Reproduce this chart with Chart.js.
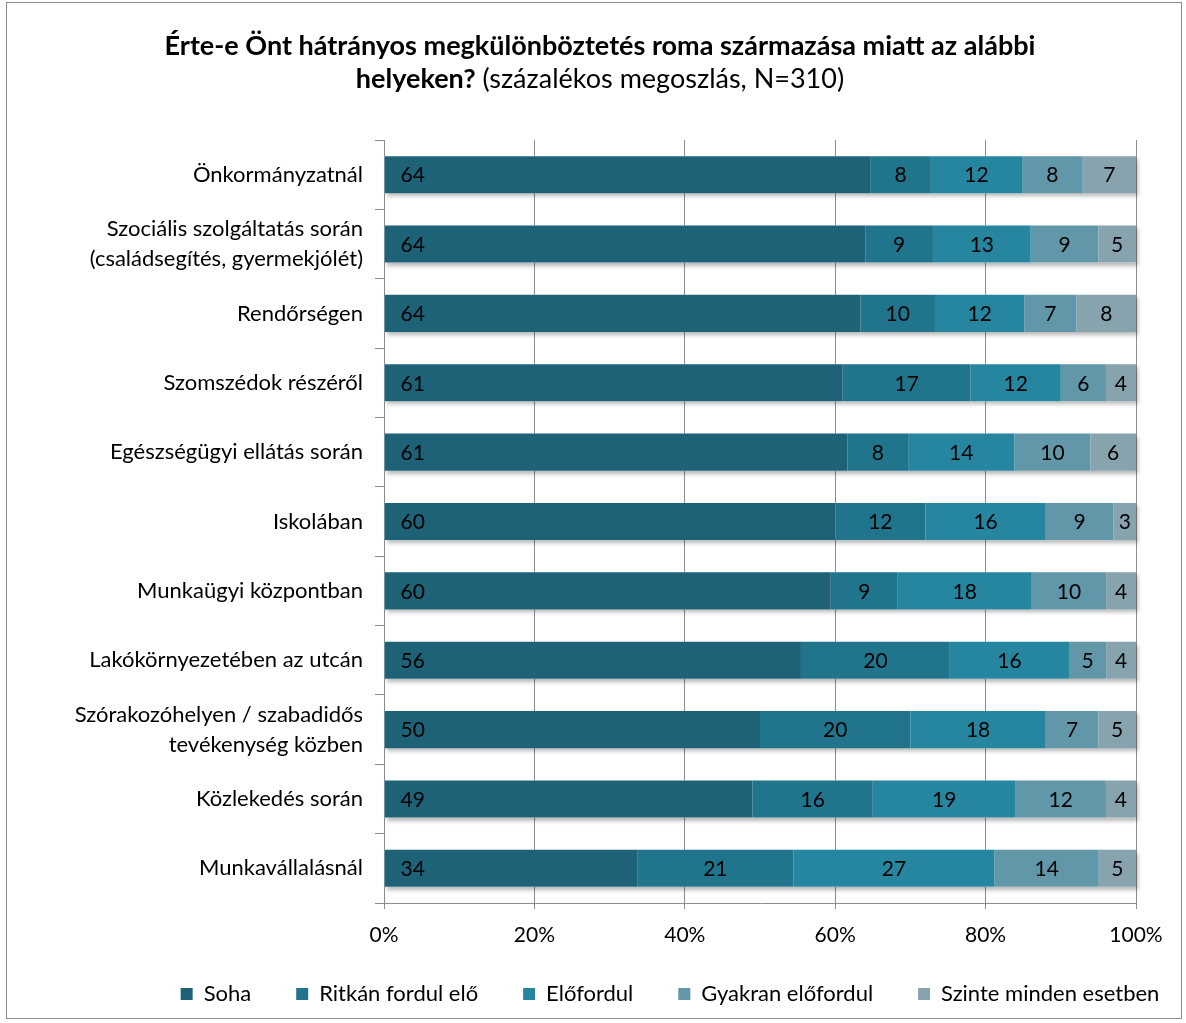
<!DOCTYPE html>
<html>
<head>
<meta charset="utf-8">
<script src="https://cdn.jsdelivr.net/npm/chart.js@4.4.1/dist/chart.umd.min.js"></script>
<style>
  html, body { margin: 0; padding: 0; background: #fff; }
  #keret { position: absolute; left: 6px; top: 2px; width: 1176px; height: 1017px; border: 1px solid #8c8c8c; box-sizing: border-box; }
  #doboz { position: absolute; left: 0; top: 0; width: 1186px; height: 1023px; }
</style>
</head>
<body>
<div id="keret"></div>
<div id="doboz"><canvas id="grafikon" width="1186" height="1023"></canvas></div>
<script>
const betu = "Lato, 'Open Sans', sans-serif";

const helyek = [
    "Önkormányzatnál",
    ["Szociális szolgáltatás során", "(családsegítés, gyermekjólét)"],
    "Rendőrségen",
    "Szomszédok részéről",
    "Egészségügyi ellátás során",
    "Iskolában",
    "Munkaügyi központban",
    "Lakókörnyezetében az utcán",
    ["Szórakozóhelyen / szabadidős", "tevékenység közben"],
    "Közlekedés során",
    "Munkavállalásnál"
];

const soha =      [64, 64, 64, 61, 61, 60, 60, 56, 50, 49, 34];
const ritkan =    [ 8,  9, 10, 17,  8, 12,  9, 20, 20, 16, 21];
const elofordul = [12, 13, 12, 12, 14, 16, 18, 16, 18, 19, 27];
const gyakran =   [ 8,  9,  7,  6, 10,  9, 10,  5,  7, 12, 14];
const szinte =    [ 7,  5,  8,  4,  6,  3,  4,  4,  5,  4,  5];

const sorozatNevek = ["Soha", "Ritkán fordul elő", "Előfordul", "Gyakran előfordul", "Szinte minden esetben"];
const szinek = ["#1d6277", "#20758c", "#26869f", "#6197a8", "#86a3ae"];
const osszes = [soha, ritkan, elofordul, gyakran, szinte];

// sorok összege -> 100%-os halmozás
const sorOsszeg = helyek.map((_, i) => osszes.reduce((s, sor) => s + sor[i], 0));

const adatsorok = osszes.map((sor, k) => ({
    label: sorozatNevek[k],
    data: sor.map((v, i) => v / sorOsszeg[i] * 100),
    nyers: sor,
    backgroundColor: szinek[k],
    borderWidth: 0,
    barPercentage: 0.535,
    categoryPercentage: 1
}));

// cím két betűtípussal
const cimRajz = {
    id: 'cimRajz',
    afterLayout(chart) {
        // a jelmagyarázat jobbra tolva, mint az eredetin
        chart.legend.left += 102;
        chart.legend.right += 102;
        chart.legend.top -= 20;
        chart.legend.bottom -= 20;
    },
    afterDraw(chart) {
        const ctx = chart.ctx;
        ctx.save();
        ctx.fillStyle = '#000';
        ctx.textBaseline = 'middle';
        ctx.textAlign = 'left';
        ctx.font = `bold 27px ${betu}`;
        const sor1 = "Érte-e Önt hátrányos megkülönböztetés roma származása miatt az alábbi";
        let w = ctx.measureText(sor1).width;
        ctx.fillText(sor1, 600 - w / 2, 46);
        const vastag = "helyeken?";
        const vekony = " (százalékos megoszlás, N=310)";
        const w1 = ctx.measureText(vastag).width;
        ctx.font = `27px ${betu}`;
        const w2 = ctx.measureText(vekony).width;
        const x0 = 600 - (w1 + w2) / 2;
        ctx.font = `bold 27px ${betu}`;
        ctx.fillText(vastag, x0, 79);
        ctx.font = `27px ${betu}`;
        ctx.fillText(vekony, x0 + w1, 79);
        ctx.restore();
    }
};

// értékcímkék
const cimkek = {
    id: 'cimkek',
    beforeDatasetsDraw(chart) {
        const ctx = chart.ctx;
        ctx.save();
        ctx.shadowColor = 'rgba(0,0,0,0.28)';
        ctx.shadowBlur = 4;
        ctx.shadowOffsetX = 2;
        ctx.shadowOffsetY = 3;
        const meta = chart.getDatasetMeta(0);
        meta.data.forEach((bar, i) => {
            const last = chart.getDatasetMeta(4).data[i];
            ctx.fillStyle = '#ffffff';
            ctx.fillRect(bar.base, bar.y - bar.height / 2, last.x - bar.base, bar.height);
        });
        ctx.restore();
    },
    afterDatasetsDraw(chart) {
        const ctx = chart.ctx;
        ctx.save();
        ctx.font = `21px ${betu}`;
        ctx.fillStyle = '#000';
        ctx.textBaseline = 'middle';
        chart.data.datasets.forEach((ds, k) => {
            chart.getDatasetMeta(k).data.forEach((bar, i) => {
                const szoveg = String(ds.nyers[i]);
                if (k === 0) {
                    ctx.textAlign = 'left';
                    ctx.fillText(szoveg, bar.base + 16, bar.y + 1);
                } else {
                    ctx.textAlign = 'center';
                    ctx.fillText(szoveg, (bar.base + bar.x) / 2, bar.y + 1);
                }
            });
        });
        ctx.restore();
    }
};

new Chart(document.querySelector("#grafikon"), {
    type: 'bar',
    data: { labels: helyek, datasets: adatsorok },
    options: {
        indexAxis: 'y',
        responsive: false,
        animation: false,
        layout: { padding: { top: 140, right: 50, bottom: -12, left: 0 } },
        scales: {
            x: {
                stacked: true,
                min: 0, max: 100,
                ticks: { stepSize: 20, callback: v => v + '%', color: '#000', font: { family: betu, size: 21 }, padding: 14 },
                grid: { color: '#8c8c8c', tickLength: 6, lineWidth: 1 },
                border: { color: '#8c8c8c' },
                afterFit(scale) { scale.height = 55; }
            },
            y: {
                stacked: true,
                ticks: { color: '#000', font: { family: betu, size: 22, lineHeight: 1.36 }, padding: 12 },
                grid: { drawOnChartArea: false, tickLength: 9, color: '#8c8c8c', offset: true },
                border: { color: '#8c8c8c' },
                afterFit(scale) { scale.width = 384; }
            }
        },
        plugins: {
            legend: {
                position: 'bottom',
                labels: { color: '#000', font: { family: betu, size: 22 }, boxWidth: 12, boxHeight: 12, padding: 45 }
            },
            tooltip: { enabled: false }
        }
    },
    plugins: [cimRajz, cimkek]
});
</script>
</body>
</html>
